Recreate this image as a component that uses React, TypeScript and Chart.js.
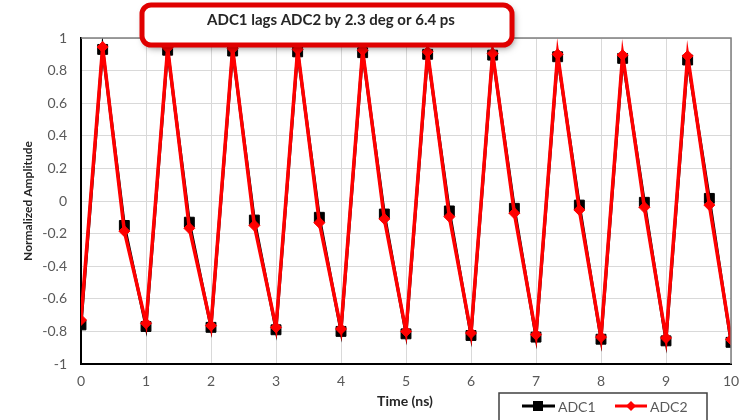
import React, { useEffect, useRef } from "react";
import { Chart, registerables } from "chart.js";

Chart.register(...registerables);

const chartTitle = "ADC1 lags ADC2 by 2.3 deg or 6.4 ps";
const xTitle = "Time (ns)";
const yTitle = "Normalized Amplitude";
const seriesNames = ["ADC1", "ADC2"];

const times = [
  0, 0.333, 0.667, 1, 1.333, 1.667, 2, 2.333, 2.667, 3, 3.333, 3.667, 4, 4.333, 4.667, 5,
  5.333, 5.667, 6, 6.333, 6.667, 7, 7.333, 7.667, 8, 8.333, 8.667, 9, 9.333, 9.667, 10,
];

const adc1 = [
  -0.76, 0.93, -0.15, -0.77, 0.925, -0.13, -0.775, 0.92, -0.117, -0.79, 0.915, -0.1, -0.8,
  0.91, -0.08, -0.815, 0.9, -0.061, -0.825, 0.895, -0.045, -0.835, 0.885, -0.025, -0.848,
  0.875, -0.008, -0.858, 0.865, 0.016, -0.867,
];

const adc2 = [
  -0.73, 0.945, -0.185, -0.75, 0.94, -0.167, -0.765, 0.935, -0.15, -0.775, 0.93, -0.133,
  -0.785, 0.925, -0.11, -0.8, 0.915, -0.096, -0.81, 0.905, -0.075, -0.82, 0.9, -0.055,
  -0.835, 0.895, -0.039, -0.84, 0.89, -0.025, -0.85,
];

const FONT = "Lato, 'Open Sans', sans-serif";

const decorPlugin = {
  id: "decor",
  afterDraw(chart: any) {
    const ctx = chart.ctx as CanvasRenderingContext2D;
    const { left, right, top, bottom } = chart.chartArea;
    ctx.save();
    // top/right border of plot area
    ctx.strokeStyle = "#7f7f7f";
    ctx.lineWidth = 1.5;
    ctx.beginPath();
    ctx.moveTo(left, top);
    ctx.lineTo(right, top);
    ctx.lineTo(right, bottom);
    ctx.stroke();

    // axis titles
    ctx.fillStyle = "#262626";
    ctx.font = `bold 12px ${FONT}`;
    ctx.textAlign = "center";
    ctx.textBaseline = "middle";
    ctx.save();
    ctx.translate(28, (top + bottom) / 2);
    ctx.rotate(-Math.PI / 2);
    ctx.fillText(yTitle, 0, 0);
    ctx.restore();
    ctx.font = `bold 14px ${FONT}`;
    ctx.fillText(xTitle, 405, 401);

    // title box
    const bx = 142, by = 5, bw = 370, bh = 40, r = 9;
    ctx.save();
    ctx.shadowColor = "rgba(0,0,0,0.5)";
    ctx.shadowBlur = 7;
    ctx.shadowOffsetX = 2;
    ctx.shadowOffsetY = 3;
    ctx.fillStyle = "#ffffff";
    ctx.beginPath();
    ctx.roundRect(bx, by, bw, bh, r);
    ctx.fill();
    ctx.restore();
    ctx.strokeStyle = "#e00000";
    ctx.lineWidth = 5;
    ctx.beginPath();
    ctx.roundRect(bx, by, bw, bh, r);
    ctx.stroke();
    ctx.fillStyle = "#262626";
    ctx.font = `bold 15px ${FONT}`;
    ctx.fillText(chartTitle, 331, 20);

    // legend
    ctx.fillStyle = "#ffffff";
    ctx.fillRect(499, 393, 208, 30);
    ctx.strokeStyle = "#404040";
    ctx.lineWidth = 1.5;
    ctx.strokeRect(499, 393, 208, 30);
    const ly = 406;
    ctx.strokeStyle = "#000000";
    ctx.lineWidth = 3;
    ctx.beginPath();
    ctx.moveTo(522, ly);
    ctx.lineTo(555, ly);
    ctx.stroke();
    ctx.fillStyle = "#000000";
    ctx.fillRect(533, ly - 5, 10, 10);
    ctx.strokeStyle = "#ff0000";
    ctx.beginPath();
    ctx.moveTo(615, ly);
    ctx.lineTo(647, ly);
    ctx.stroke();
    ctx.fillStyle = "#ff0000";
    ctx.beginPath();
    ctx.moveTo(631, ly - 5);
    ctx.lineTo(636, ly);
    ctx.lineTo(631, ly + 5);
    ctx.lineTo(626, ly);
    ctx.closePath();
    ctx.fill();
    ctx.fillStyle = "#595959";
    ctx.font = `14px ${FONT}`;
    ctx.textAlign = "left";
    ctx.fillText(seriesNames[0], 558, ly + 1);
    ctx.fillText(seriesNames[1], 650, ly + 1);
    ctx.restore();
  },
};

export default function App() {
  const ref = useRef<HTMLCanvasElement>(null);
  useEffect(() => {
    document.body.style.margin = "0";
    const chart = new Chart(ref.current!, {
      type: "line",
      data: {
        datasets: [
          {
            label: seriesNames[0],
            data: times.map((t, i) => ({ x: t, y: adc1[i] })),
            borderColor: "#000000",
            backgroundColor: "#000000",
            borderWidth: 3,
            pointStyle: "rect",
            pointRadius: 7,
            pointBorderWidth: 1,
            order: 1,
          },
          {
            label: seriesNames[1],
            data: times.map((t, i) => ({ x: t, y: adc2[i] })),
            borderColor: "#ff0000",
            backgroundColor: "#ff0000",
            borderWidth: 3.5,
            pointStyle: "rectRot",
            pointRadius: 5.5,
            pointBorderWidth: 1,
            order: 0,
          },
        ],
      },
      options: {
        animation: false,
        responsive: false,
        maintainAspectRatio: false,
        layout: { padding: { top: 38, right: 19, left: 0, bottom: 0 } },
        plugins: { legend: { display: false }, tooltip: { enabled: false } },
        scales: {
          x: {
            type: "linear",
            min: 0,
            max: 10,
            ticks: {
              stepSize: 1,
              padding: 9,
              color: "#595959",
              font: { family: FONT, size: 14 },
              callback: (v: any) => String(v),
            },
            grid: { color: "#d9d9d9", lineWidth: 1, drawTicks: false },
            border: { color: "#000000", width: 2 },
            afterFit: (s: any) => {
              s.height = 56;
            },
          },
          y: {
            min: -1,
            max: 1,
            ticks: {
              stepSize: 0.2,
              padding: 14,
              color: "#595959",
              font: { family: FONT, size: 14 },
              callback: (v: any) => String(Math.round(Number(v) * 10) / 10),
            },
            grid: { color: "#d9d9d9", lineWidth: 1, drawTicks: false },
            border: { color: "#000000", width: 2 },
            afterFit: (s: any) => {
              s.width = 81;
            },
          },
        },
      },
      plugins: [decorPlugin],
    });
    return () => chart.destroy();
  }, []);
  return (
    <div style={{ position: "absolute", left: 0, top: 0, width: 750, height: 420 }}>
      <canvas ref={ref} width={750} height={420} style={{ width: 750, height: 420 }} />
    </div>
  );
}
